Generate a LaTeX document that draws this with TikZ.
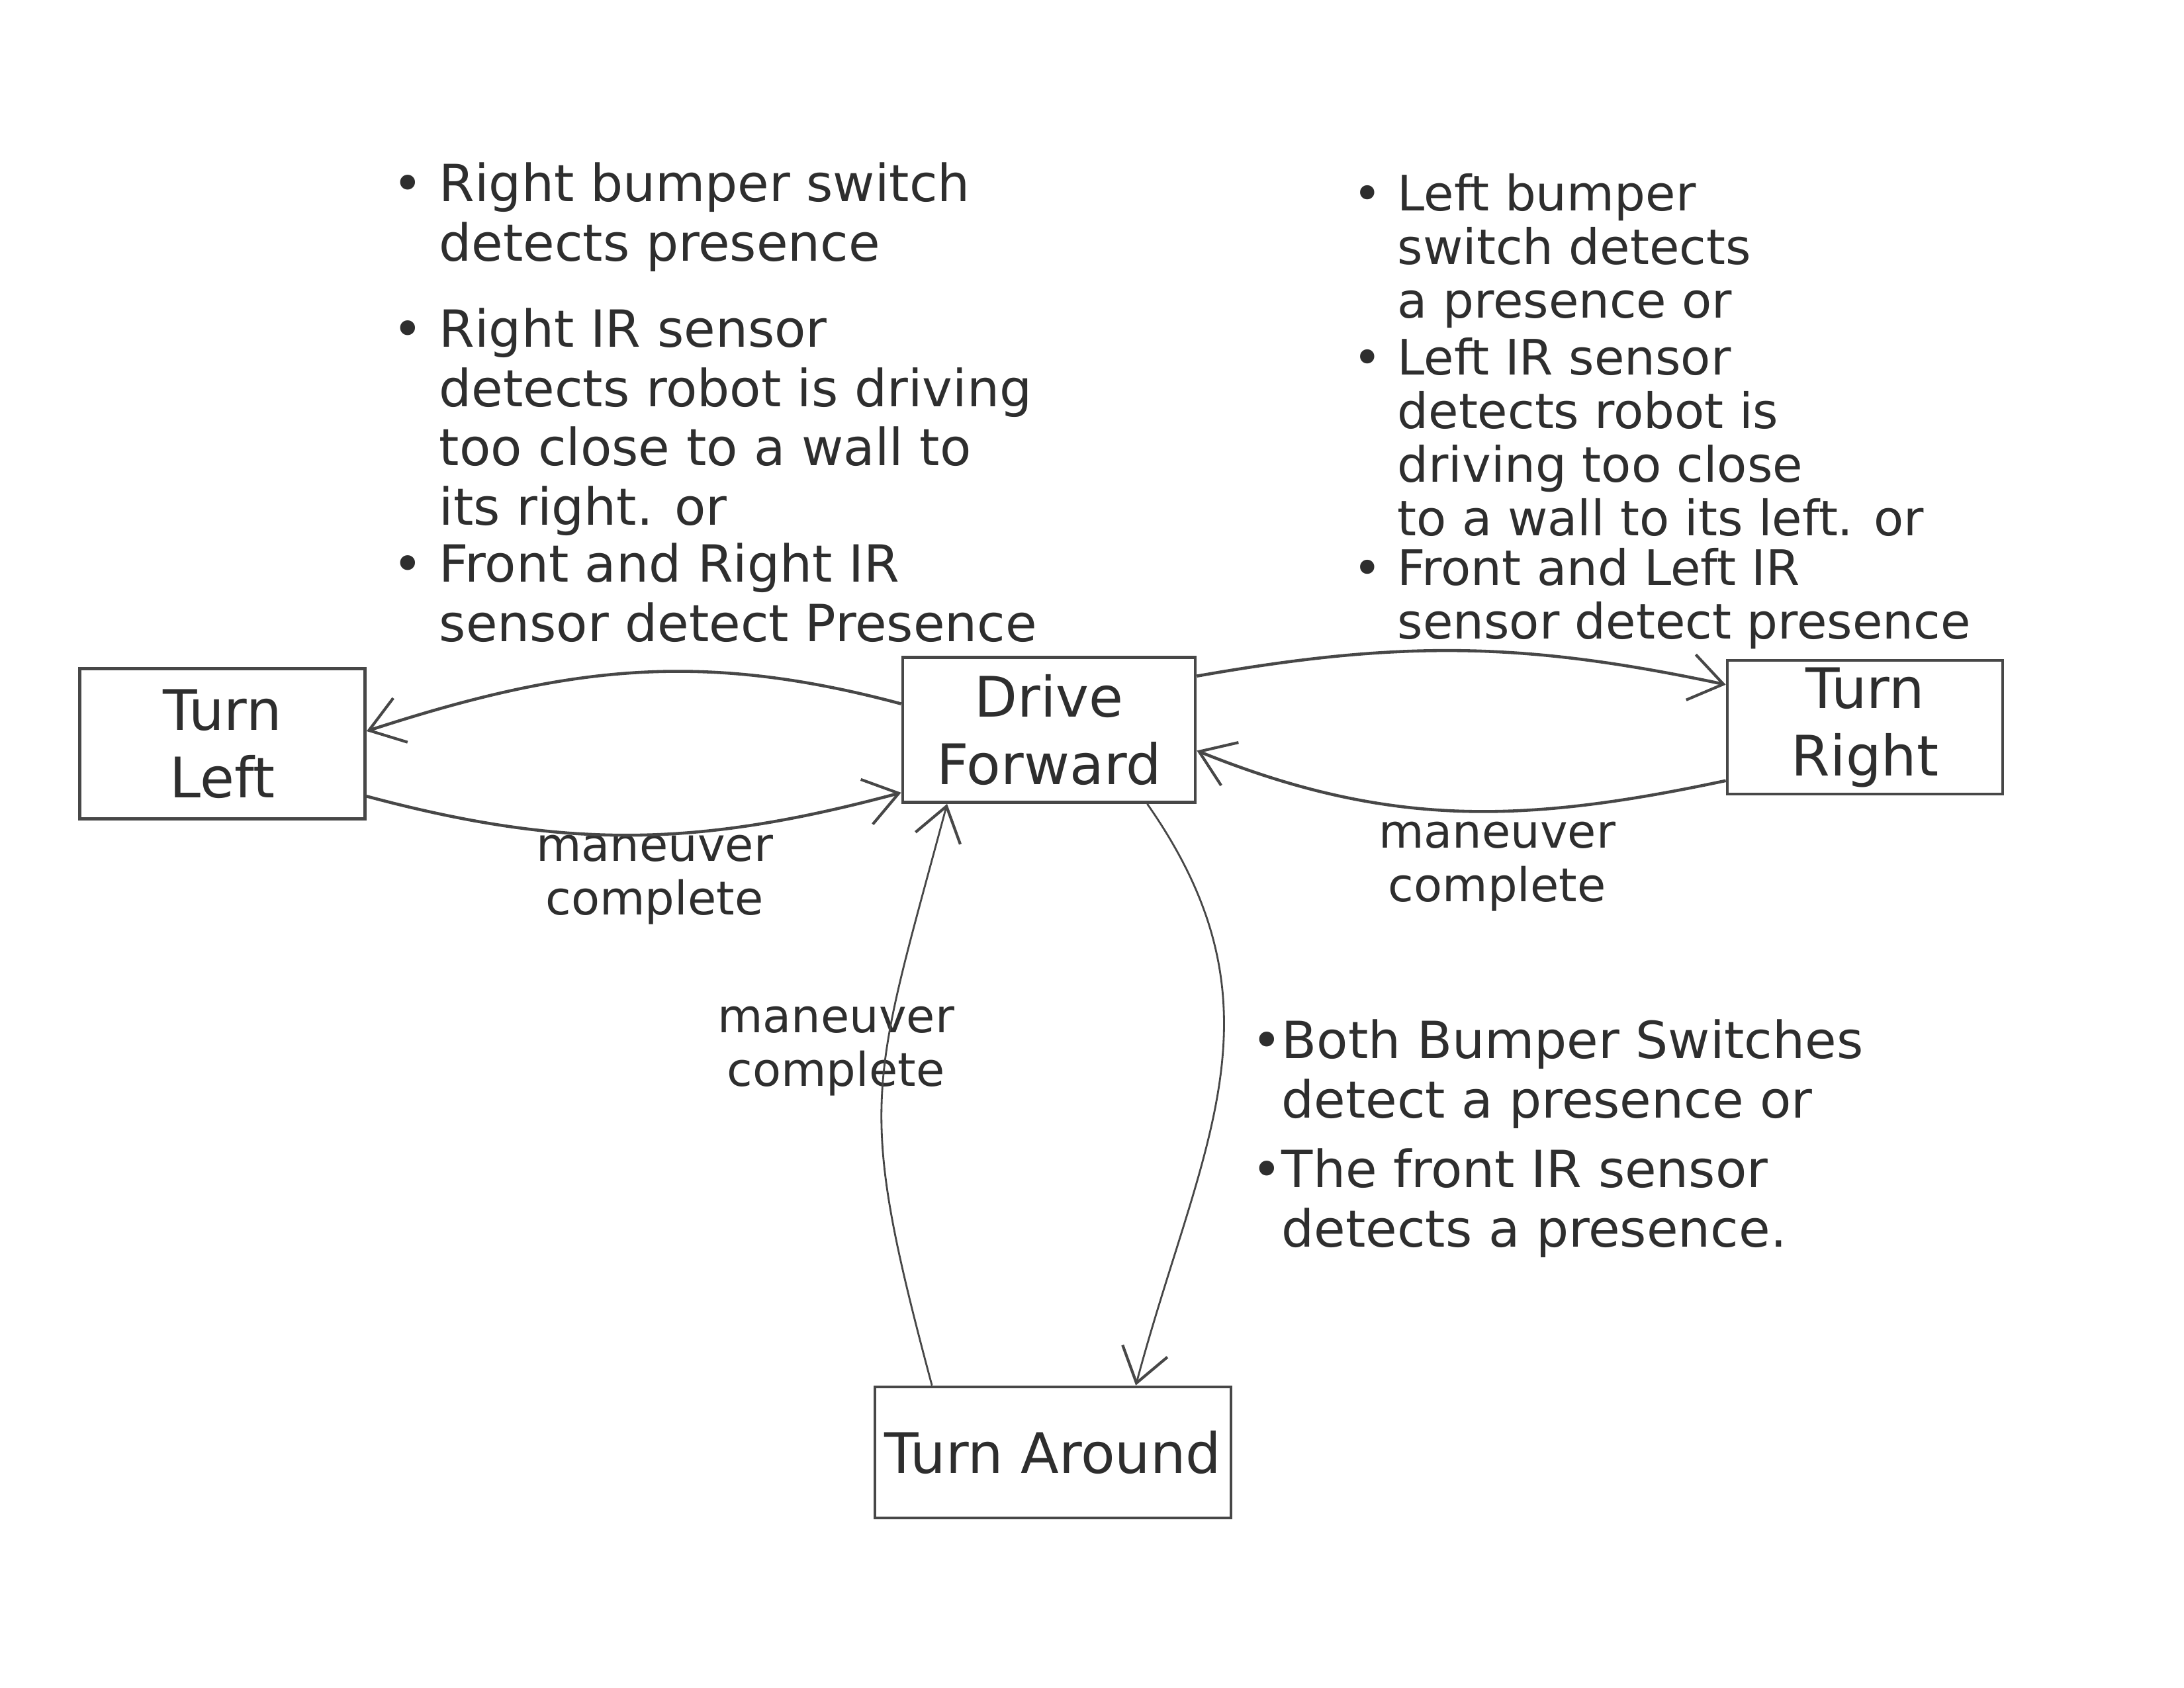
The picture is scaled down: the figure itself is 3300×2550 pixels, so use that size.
\documentclass[tikz,border=0pt]{standalone}
\usepackage{fontspec}
\setmainfont{DejaVu Sans}
\usetikzlibrary{arrows.meta}
\begin{document}
\begin{tikzpicture}[x=0.01cm,y=0.01cm,
  statebox/.style={draw=black!72, line width=1.3pt, align=center, inner sep=0pt,
    font=\fontsize{24}{29}\selectfont, text=black!82},
  note/.style={anchor=north west, align=left, inner sep=0pt,
    font=\fontsize{22}{25.5}\selectfont, text=black!82},
  tightnote/.style={note, font=\fontsize{21}{23}\selectfont},
  lbl/.style={align=center, inner sep=0pt, font=\fontsize{20}{23}\selectfont, text=black!82},
  trans/.style={draw=black!72, line width=1.3pt,
    -{Straight Barb[length=5mm,width=7mm,line width=1.2pt]}},
  thintrans/.style={trans, line width=0.8pt}]
\useasboundingbox (0,0) rectangle (3300,-2550);
\fill[white] (0,0) rectangle (3300,-2550);

% states
\node[statebox, minimum width=4.31cm, minimum height=2.27cm] (tl) at (336,-1124) {Turn\\Left};
\node[statebox, minimum width=4.42cm, minimum height=2.19cm] (df) at (1585,-1103) {Drive\\Forward};
\node[statebox, minimum width=4.16cm, minimum height=2.02cm] (tr) at (2818,-1099) {Turn\\Right};
\node[statebox, minimum width=5.38cm, minimum height=1.98cm] (ta) at (1591,-2195) {Turn Around};

% condition notes
\node[note] (nl1) at (663,-245) {\llap{•\ }Right bumper switch\\detects presence};
\node[note] (nl2) at (663,-465) {\llap{•\ }Right IR sensor\\detects robot is driving\\too close to a wall to\\its right. or};
\node[note] (nl3) at (663,-820) {\llap{•\ }Front and Right IR\\sensor detect Presence};

\node[tightnote] (nr1) at (2111,-262) {\llap{•\ }Left bumper\\switch detects\\a presence or};
\node[tightnote] (nr2) at (2111,-510) {\llap{•\ }Left IR sensor\\detects robot is\\driving too close\\to a wall to its left. or};
\node[tightnote] (nr3) at (2111,-828) {\llap{•\ }Front and Left IR\\sensor detect presence};

\node[note] (nb1) at (1936,-1540) {\llap{•}Both Bumper Switches\\detect a presence or};
\node[note] (nb2) at (1936,-1735) {\llap{•}The front IR sensor\\detects a presence.};

% maneuver labels
\node[lbl] (ml) at (989,-1330) {maneuver\\complete};
\node[lbl] (mr) at (2262,-1310) {maneuver\\complete};
\node[lbl] (mb) at (1263,-1589) {maneuver\\complete};

% transitions
\draw[trans] (df.170) to[out=165,in=18] (tl.5);
\draw[trans] (tl.-20) to[out=-15,in=195] (df.203);
\draw[trans] (df.20) to[out=10,in=168] (tr.163);
\draw[trans] (tr.201) to[out=192,in=-22] (df.352);
\draw[thintrans] (df.-37) to[out=-55,in=75,looseness=1.1] (ta.39);
\draw[thintrans] (ta.151) to[out=105,in=255,looseness=1.3] (df.216);
\end{tikzpicture}
\end{document}
